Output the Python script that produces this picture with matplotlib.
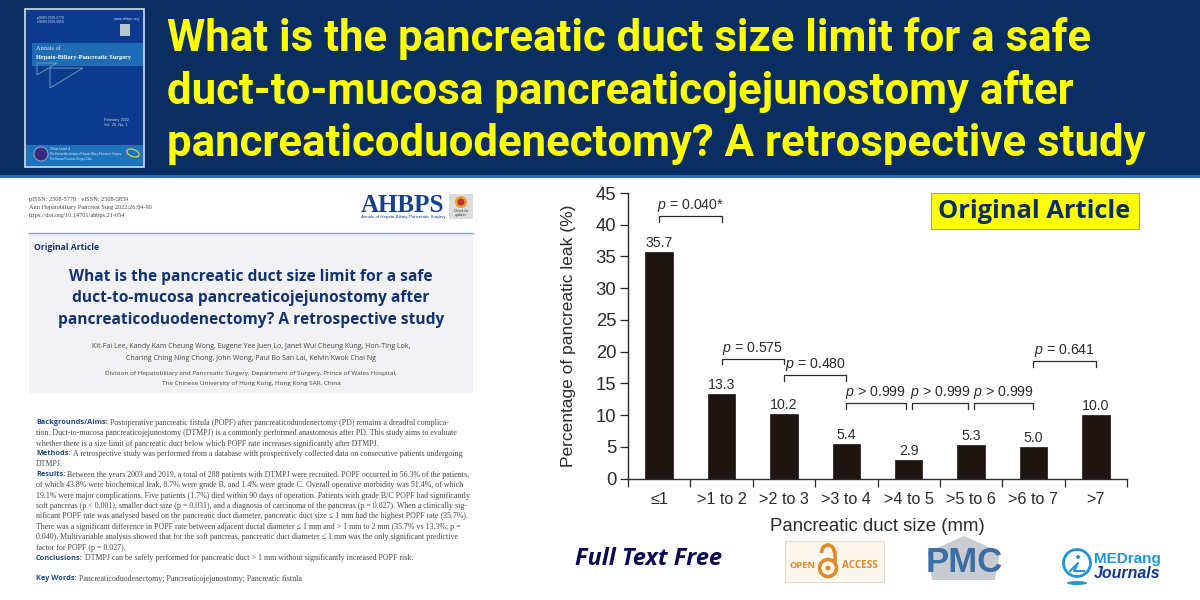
import matplotlib
matplotlib.use("Agg")
import matplotlib.pyplot as plt
from matplotlib.patches import Rectangle, Circle, Polygon, Arc, Ellipse

plt.rcParams['font.family'] = ['Liberation Sans', 'DejaVu Sans']
plt.rcParams['mathtext.fontset'] = 'custom'
plt.rcParams['mathtext.it'] = 'Liberation Sans:italic'
plt.rcParams['mathtext.rm'] = 'Liberation Sans'

# chart data
duct_sizes = ["≤1", ">1 to 2", ">2 to 3", ">3 to 4", ">4 to 5", ">5 to 6", ">6 to 7", ">7"]
leak_pct = [35.7, 13.3, 10.2, 5.4, 2.9, 5.3, 5.0, 10.0]
y_ticks = [0, 5, 10, 15, 20, 25, 30, 35, 40, 45]

# p value brackets, in category / percent units
p_labels = ["$p$ = 0.040*", "$p$ = 0.575", "$p$ = 0.480", "$p$ > 0.999", "$p$ > 0.999", "$p$ > 0.999", "$p$ = 0.641"]
p_left = [0, 1, 2, 3, 4.06, 5.05, 6]
p_right = [1, 2, 3, 3.95, 4.95, 6, 7]
p_top = [41.4, 18.9, 16.3, 11.9, 11.9, 11.9, 18.5]
p_foot = [40.5, 18.0, 15.4, 10.9, 10.9, 10.9, 17.6]
p_text_y = [43.0, 20.5, 18.0, 13.6, 13.6, 13.6, 20.1]

title_lines = ["What is the pancreatic duct size limit for a safe",
               "duct-to-mucosa pancreaticojejunostomy after",
               "pancreaticoduodenectomy? A retrospective study"]
author_lines = ["Kit-Fai Lee, Kandy Kam Cheung Wong, Eugene Yee Juen Lo, Janet Wui Cheung Kung, Hon-Ting Lok,",
                "Charing Ching Ning Chong, John Wong, Paul Bo San Lai, Kelvin Kwok Chai Ng"]
affil_lines = ["Division of Hepatobiliary and Pancreatic Surgery, Department of Surgery, Prince of Wales Hospital,",
               "The Chinese University of Hong Kong, Hong Kong SAR, China"]
head_lines = ["pISSN: 2508-5778 · eISSN: 2508-5859",
              "Ann Hepatobiliary Pancreat Surg 2022;26:84-90",
              "https://doi.org/10.14701/ahbps.21-054"]
# (bold lead-in, rest of line)
abstract = [("Backgrounds/Aims:", "Postoperative pancreatic fistula (POPF) after pancreaticoduodenectomy (PD) remains a dreadful complica-"),
            ("", "tion. Duct-to-mucosa pancreaticojejunostomy (DTMPJ) is a commonly performed anastomosis after PD. This study aims to evaluate"),
            ("", "whether there is a size limit of pancreatic duct below which POPF rate increases significantly after DTMPJ."),
            ("Methods:", "A retrospective study was performed from a database with prospectively collected data on consecutive patients undergoing"),
            ("", "DTMPJ."),
            ("Results:", "Between the years 2003 and 2019, a total of 288 patients with DTMPJ were recruited. POPF occurred in 56.3% of the patients,"),
            ("", "of which 43.8% were biochemical leak, 8.7% were grade B, and 1.4% were grade C. Overall operative morbidity was 51.4%, of which"),
            ("", "19.1% were major complications. Five patients (1.7%) died within 90 days of operation. Patients with grade B/C POPF had significantly"),
            ("", "soft pancreas (p < 0.001), smaller duct size (p = 0.031), and a diagnosis of carcinoma of the pancreas (p = 0.027). When a clinically sig-"),
            ("", "nificant POPF rate was analysed based on the pancreatic duct diameter, pancreatic duct size ≤ 1 mm had the highest POPF rate (35.7%)."),
            ("", "There was a significant difference in POPF rate between adjacent ductal diameter ≤ 1 mm and > 1 mm to 2 mm (35.7% vs 13.3%; p ="),
            ("", "0.040). Multivariable analysis showed that for the soft pancreas, pancreatic duct diameter ≤ 1 mm was the only significant predictive"),
            ("", "factor for POPF (p = 0.027)."),
            ("Conclusions:", "DTMPJ can be safely performed for pancreatic duct > 1 mm without significantly increased POPF risk.")]
key_words = ("Key Words:", "Pancreaticoduodenectomy; Pancreaticojejunostomy; Pancreatic fistula")

NAVY = "#0a2d62"
YELLOW = "#ffff00"
INK = "#12336f"
DARK = "#2b2b2b"

fig = plt.figure(figsize=(12, 6), dpi=100, facecolor="white")

# page layer in pixel coordinates
bg = fig.add_axes([0, 0, 1, 1], zorder=0)
bg.set_xlim(0, 1200)
bg.set_ylim(600, 0)
bg.axis("off")

# header band
bg.add_patch(Rectangle((0, 0), 1200, 175, fc=NAVY, ec="none"))
bg.add_patch(Rectangle((0, 175), 1200, 2.5, fc="#2c6ca8", ec="none"))
for i, line in enumerate(title_lines):
    bg.text(167, 39 + i * 52.5, line, color=YELLOW, fontsize=31.5, fontweight="bold",
            family="Roboto", va="center", ha="left")

# journal cover
bg.add_patch(Rectangle((25, 9), 119, 158, fc="#0b3a8e", ec="#cfe0f0", lw=1.2))
bg.add_patch(Rectangle((32, 43), 111, 23, fc="#1d6cb4", ec="none"))
bg.add_patch(Rectangle((26, 145), 117, 21, fc="#1d74bd", ec="none"))
bg.text(36, 48, "Annals of", color="#dfe8f5", fontsize=4.5, family="Liberation Serif", va="center")
bg.text(36, 57, "Hepato-Biliary-Pancreatic Surgery", color="white", fontsize=4.6, fontweight="bold",
        family="Liberation Serif", va="center")
bg.add_patch(Polygon([[37, 63], [57, 63], [37, 75]], fc="none", ec="#5f9fb0", lw=0.7))
bg.add_patch(Polygon([[50, 68], [83, 68], [50, 88]], fc="none", ec="#5f9fb0", lw=0.7))
bg.add_patch(Rectangle((120, 24), 10, 12, fc="#b9c6d6", ec="none"))
bg.text(37, 20, "pISSN 2508-5778\neISSN 2508-5859", color="#cfd8e8", fontsize=2.4, va="center")
bg.text(114, 19, "www.ahbps.org", color="#cfd8e8", fontsize=2.6, va="center")
bg.text(104, 122, "February 2022\nVol. 26, No. 1", color="#cfd8e8", fontsize=2.8, va="center")
bg.add_patch(Circle((41, 154), 7, fc="#3a2a7a", ec="#9fb4d0", lw=0.6))
bg.text(50, 154, "Official Journal of\nThe Korean Association of Hepato-Biliary-Pancreatic Surgery\nThe Korean Pancreas Surgery Club",
        color="#dfe8f5", fontsize=1.9, va="center")
bg.add_patch(Ellipse((133, 153), 13, 7, angle=20, fc="none", ec="#e4c93a", lw=0.9))

# article page, left side
for i, line in enumerate(head_lines):
    bg.text(29, 200 + i * 7.8, line, color="#444444", fontsize=4.5, family="Liberation Serif", va="center")
bg.text(361, 205, "AHBPS", color="#17408b", fontsize=18, fontweight="bold", family="Liberation Serif", va="center")
bg.text(361, 217, "Annals of Hepato-Biliary-Pancreatic Surgery", color="#17408b", fontsize=3.2, va="center")
bg.add_patch(Rectangle((449, 194), 24, 25, fc="#dcdcdc", ec="none"))
bg.add_patch(Circle((461, 202), 6, fc="#e0a030", ec="none"))
bg.add_patch(Circle((461, 202), 3.5, fc="#c8322c", ec="none"))
bg.text(461, 213, "Check for\nupdates", color="#333333", fontsize=2.4, ha="center", va="center")

bg.add_patch(Rectangle((29, 233), 444, 160, fc="#f2f2f5", ec="none"))
bg.plot([29, 473], [232.5, 232.5], color="#8aa4c8", lw=1)
bg.text(34, 247, "Original Article", color=INK, fontsize=6.2, fontweight="bold", family="Open Sans", va="center")
for i, line in enumerate(title_lines):
    bg.text(251, 277 + i * 21.5, line, color=INK, fontsize=11.2, fontweight="bold", family="Open Sans",
            ha="center", va="center")
for i, line in enumerate(author_lines):
    bg.text(251, 347 + i * 11, line, color="#444444", fontsize=5.05, family="Open Sans", ha="center", va="center")
for i, line in enumerate(affil_lines):
    bg.text(251, 374 + i * 10, line, color="#444444", fontsize=4.55, family="Open Sans", ha="center", va="center")


def abstract_line(y, lead, rest):
    x = 36
    if lead:
        t = bg.text(x, y, lead, color="#1b4a8c", fontsize=5.3, fontweight="bold", family="Open Sans", va="center")
        x = bg.transData.inverted().transform((t.get_window_extent(fig.canvas.get_renderer()).x1, 0))[0] + 2
    bg.text(x, y, rest, color="#444444", fontsize=5.67, family="Liberation Serif", va="center")


for i, (lead, rest) in enumerate(abstract):
    abstract_line(422.7 + i * 10.42, lead, rest)
abstract_line(579, *key_words)

# bar chart, x from 628 to 1127 px and y from 478.5 up to 193 px
ax = fig.add_axes([628 / 1200, (600 - 478.5) / 600, 499 / 1200, 285.5 / 600], zorder=1)
ax.patch.set_alpha(0)
x_pos = list(range(len(leak_pct)))
ax.bar(x_pos, leak_pct, width=0.44, color="#1e1512", edgecolor="#1e1512", linewidth=0.5)
ax.set_xlim(-0.5, 7.5)
ax.set_ylim(0, 45)
ax.set_yticks(y_ticks)
ax.set_xticks([i - 0.5 for i in range(9)])
ax.set_xticklabels([])
ax.set_xticks(x_pos, minor=True)
ax.set_xticklabels(duct_sizes, minor=True)
ax.tick_params(axis="x", which="major", length=5.5, width=0.9, color=DARK, direction="out")
ax.tick_params(axis="x", which="minor", length=0, labelsize=11.7, pad=9.5, labelcolor=DARK)
ax.tick_params(axis="y", length=5.5, width=0.9, color=DARK, labelsize=13.3, pad=3, labelcolor=DARK)
for side in ["top", "right"]:
    ax.spines[side].set_visible(False)
for side in ["left", "bottom"]:
    ax.spines[side].set_color(DARK)
    ax.spines[side].set_linewidth(1)
ax.set_xlabel("Pancreatic duct size (mm)", fontsize=13.4, color=DARK, labelpad=8)
ax.set_ylabel("Percentage of pancreatic leak (%)", fontsize=12.5, color=DARK, labelpad=14)

for i, v in enumerate(leak_pct):
    ax.text(i, v + 0.35, "%.1f" % v, ha="center", va="bottom", fontsize=10.2, color=DARK)

for lab, x0, x1, top, foot, ty in zip(p_labels, p_left, p_right, p_top, p_foot, p_text_y):
    ax.plot([x0, x0, x1, x1], [foot, top, top, foot], color=DARK, lw=0.9, clip_on=False)
    ax.text((x0 + x1) / 2, ty, lab, ha="center", va="center", fontsize=10.2, color=DARK)

# overlays on the right side
fg = fig.add_axes([0, 0, 1, 1], zorder=2)
fg.set_xlim(0, 1200)
fg.set_ylim(600, 0)
fg.axis("off")
fg.add_patch(Rectangle((930.5, 192.5), 208, 36, fc=YELLOW, ec="#a8a860", lw=0.8))
fg.text(1034.5, 211, "Original Article", color=NAVY, fontsize=18.3, fontweight="bold", family="Open Sans",
        ha="center", va="center")

# footer logos
fg.text(575, 559, "Full Text Free", color="#0a0a50", fontsize=17, fontweight="bold", style="italic",
        family="Open Sans", va="center")
fg.add_patch(Rectangle((785, 541), 99, 41, fc="#fbf6ec", ec="#e8dcc4", lw=0.8))
fg.text(790, 565, "OPEN", color="#e08a2c", fontsize=6.7, fontweight="bold", family="Open Sans", va="center")
fg.text(842, 565, "ACCESS", color="#e08a2c", fontsize=7.2, fontweight="bold", family="Open Sans", va="center")
fg.add_patch(Circle((828, 568), 8.5, fc="none", ec="#e08a2c", lw=2.6))
fg.add_patch(Circle((828, 568), 2.5, fc="#e08a2c", ec="none"))
fg.add_patch(Arc((828, 553), 13, 16, theta1=180, theta2=360, ec="#e08a2c", lw=2.6))
fg.plot([834.5, 834.5], [553, 561], color="#e08a2c", lw=2.6)
fg.add_patch(Polygon([[964, 536], [1000, 552], [995, 580], [932, 580], [928, 552]], fc="#c8ccd2", ec="none"))
fg.text(964, 563, "PMC", color="#3a6ea5", fontsize=25, fontweight="bold", family="Liberation Sans",
        ha="center", va="center")
fg.add_patch(Circle((1077, 563), 13.5, fc="none", ec="#1e96d6", lw=2))
fg.add_patch(Ellipse((1077, 583), 20, 4, fc="#1e96d6", ec="none"))
fg.plot([1070, 1078, 1074, 1084], [571, 563, 571, 571], color="#1e96d6", lw=1.5)
fg.add_patch(Circle((1078, 557), 2, fc="#1e96d6", ec="none"))
fg.text(1094, 559, "MEDrang", color="#1e96d6", fontsize=11, fontweight="bold", va="center")
fg.text(1094, 573, "Journals", color="#123a8a", fontsize=11.5, fontweight="bold", style="italic", va="center")

fig.savefig("out.png", dpi=100)
